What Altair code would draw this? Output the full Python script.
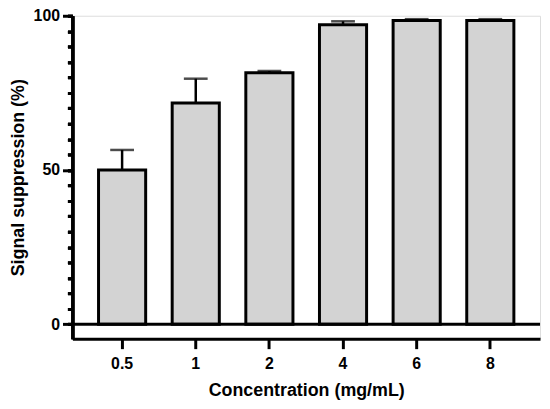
import altair as alt
import pandas as pd

conc = ["0.5", "1", "2", "4", "6", "8"]
mean = [50.0, 71.7, 81.5, 97.1, 98.5, 98.5]
err = [6.5, 7.9, 0.6, 1.1, 0.4, 0.4]
major_ticks = [0, 50, 100]
minor_ticks = list(range(0, 101, 5))

df = pd.DataFrame({"conc": conc, "mean": mean, "err": err})
df["upper"] = df["mean"] + df["err"]

FONT = "Liberation Sans"
LABEL_SIZE = 16
TITLE_SIZE = 18

xscale = alt.Scale(paddingInner=0.36, paddingOuter=0.355)
yscale = alt.Scale(domain=[-4.7, 100], nice=False, zero=False)

x_enc = alt.X("conc:N", sort=conc, scale=xscale,
              title="Concentration (mg/mL)",
              axis=alt.Axis(labelAngle=0, labelAlign="center", labelBaseline="top",
                            tickSize=10, tickWidth=3, domainWidth=3,
                            domainColor="black", tickColor="black",
                            labelFontSize=LABEL_SIZE, labelFontWeight="bold", labelFont=FONT,
                            labelColor="black", labelPadding=7,
                            titleFontSize=TITLE_SIZE, titleFontWeight="bold", titleFont=FONT,
                            titleColor="black", titlePadding=10))

minor_axis = alt.Axis(values=minor_ticks, labels=False, title=None, orient="left",
                      tickSize=5, tickWidth=3, domainWidth=3, domainColor="black",
                      tickColor="black", grid=False)

major_axis = alt.Axis(values=major_ticks, orient="left",
                      tickSize=10, tickWidth=3, domainWidth=3, domainColor="black",
                      tickColor="black", labelFontSize=LABEL_SIZE, labelFontWeight="bold",
                      labelFont=FONT, labelColor="black", labelPadding=3, grid=False,
                      labelOverlap=False,
                      titleFontSize=TITLE_SIZE, titleFontWeight="bold", titleFont=FONT,
                      titleColor="black", titlePadding=6)

base = alt.Chart(df)

bars = base.mark_bar(fill="#d3d3d3", stroke="black", strokeWidth=3).encode(
    x=x_enc,
    y=alt.Y("mean:Q", scale=yscale, axis=minor_axis),
    y2=alt.Y2(datum=0),
)

err_line = base.mark_rule(color="black", strokeWidth=2.5).encode(
    x=alt.X("conc:N", sort=conc),
    y=alt.Y("mean:Q", scale=yscale, axis=minor_axis),
    y2="upper:Q",
)

caps = base.mark_tick(color="black", thickness=2.5, size=24, orient="horizontal").encode(
    x=alt.X("conc:N", sort=conc),
    y=alt.Y("upper:Q", scale=yscale, axis=minor_axis),
)

zero = alt.Chart(pd.DataFrame({"z": [0]})).mark_rule(color="black", strokeWidth=3).encode(
    y=alt.Y("z:Q", scale=yscale, axis=major_axis, title="Signal suppression (%)")
)

chart = alt.layer(err_line, caps, bars, zero).resolve_axis(y="independent").properties(
    width=472, height=326,
    autosize=alt.AutoSizeParams(type="none"),
    padding={"top": 6, "left": 65, "right": 2, "bottom": 60},
).configure_view(stroke=None).configure(background="white")

chart.save("out.html", embed_options={"renderer": "svg", "actions": False})
